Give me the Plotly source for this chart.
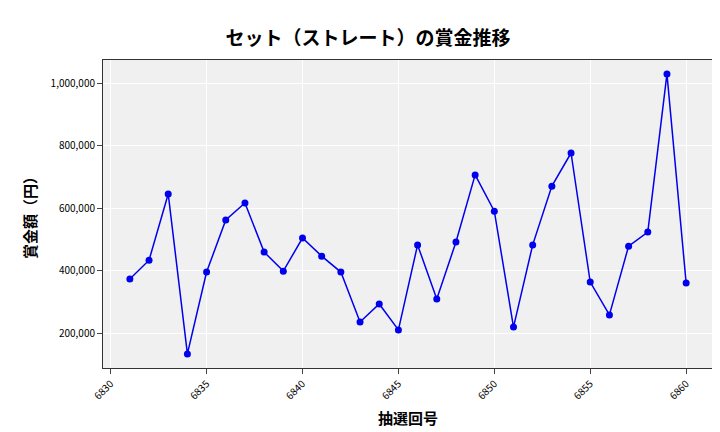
import plotly.graph_objects as go

draw_no = list(range(6831, 6861))
prize = [373000, 433000, 645000, 133000, 395000, 562000, 616000, 459000, 398000, 504000,
         446000, 395000, 235000, 293000, 210000, 482000, 309000, 491000, 706000, 590000,
         219000, 482000, 670000, 776000, 363000, 258000, 478000, 523000, 1029000, 360000]

font = "Noto Sans CJK JP"
fig = go.Figure(go.Scatter(
    x=draw_no, y=prize, mode="lines+markers",
    line=dict(color="#0000ee", width=1.5),
    marker=dict(color="#0000ee", size=7),
))
fig.update_layout(
    width=720, height=432,
    margin=dict(l=95, r=15, t=52, b=72, autoexpand=False),
    paper_bgcolor="white", plot_bgcolor="#f0f0f0",
    font=dict(family=font, color="black"),
    title=dict(text="<b>セット（ストレート）の賞金推移</b>", x=0.5, y=0.945,
               font=dict(size=19, family=font)),
    showlegend=False,
)
fig.update_xaxes(range=[6829.6, 6861.4], tickvals=list(range(6830, 6861, 5)),
                 tickangle=-45, tickfont=dict(size=10), gridcolor="white",
                 showline=True, linecolor="#333", mirror=True, ticks="outside",
                 automargin=False,
                 title=dict(text="<b>抽選回号</b>", font=dict(size=15), standoff=12))
fig.update_yaxes(range=[88000, 1073600], tickvals=[200000, 400000, 600000, 800000, 1000000],
                 tickformat=",d", tickfont=dict(size=10), gridcolor="white",
                 showline=True, linecolor="#333", mirror=True, ticks="outside",
                 automargin=False,
                 title=dict(text="<b>賞金額（円）</b>", font=dict(size=15), standoff=10))
fig.write_html("out.html")
